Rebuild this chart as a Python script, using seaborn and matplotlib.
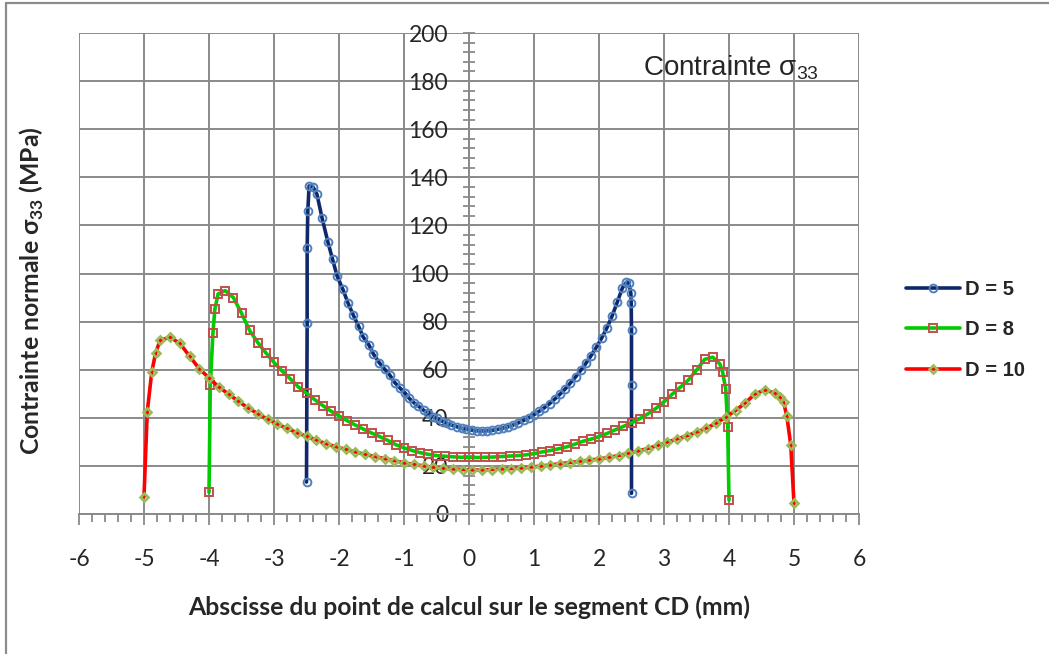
import matplotlib
matplotlib.use("Agg")
import matplotlib.pyplot as plt
from matplotlib.lines import Line2D
from matplotlib.ticker import MultipleLocator
import pandas as pd
import seaborn as sns

# Normal stress sigma_33 along segment CD, for three values of D
d5_x = [-2.50, -2.49, -2.49, -2.48, -2.46, -2.40, -2.34, -2.26, -2.17, -2.10,
        -2.03, -1.94, -1.86, -1.78, -1.70, -1.63, -1.54, -1.47, -1.38, -1.30,
        -1.22, -1.14, -1.06, -0.98, -0.92, -0.85, -0.78, -0.70, -0.63, -0.55,
        -0.49, -0.40, -0.34, -0.27, -0.19, -0.11, -0.04, 0.04, 0.12, 0.20,
        0.28, 0.36, 0.44, 0.52, 0.60, 0.68, 0.76, 0.84, 0.92, 1.00,
        1.08, 1.16, 1.24, 1.32, 1.40, 1.48, 1.56, 1.64, 1.72, 1.80,
        1.88, 1.96, 2.04, 2.12, 2.20, 2.28, 2.36, 2.42, 2.46, 2.49,
        2.495, 2.50, 2.50, 2.50]
d5_y = [13.3, 79.4, 110.6, 126.0, 136.4, 136.0, 133.0, 123.0, 113.0, 106.0,
        99.0, 93.4, 87.6, 82.7, 78.2, 73.7, 70.3, 66.5, 62.9, 60.3,
        57.8, 54.6, 52.3, 50.2, 48.1, 46.3, 44.9, 43.2, 41.9, 40.5,
        39.8, 38.4, 37.7, 37.0, 36.3, 35.6, 35.2, 34.9, 34.6, 34.5,
        34.6, 34.8, 35.2, 35.7, 36.3, 37.0, 37.9, 38.9, 40.0, 41.3,
        42.7, 44.2, 45.9, 47.8, 49.8, 52.0, 54.5, 57.0, 59.8, 62.7,
        65.9, 69.4, 73.1, 77.3, 82.2, 88.0, 94.0, 96.3, 96.0, 91.8,
        87.9, 76.5, 53.6, 8.6]

d8_x = [-4.00, -3.98, -3.94, -3.91, -3.86, -3.75, -3.625, -3.50, -3.375, -3.25,
        -3.125, -3.00, -2.875, -2.75, -2.625, -2.50, -2.375, -2.25, -2.125, -2.00,
        -1.875, -1.75, -1.625, -1.50, -1.375, -1.25, -1.125, -1.00, -0.875, -0.75,
        -0.625, -0.50, -0.375, -0.25, -0.125, 0.00, 0.125, 0.25, 0.375, 0.50,
        0.625, 0.75, 0.875, 1.00, 1.125, 1.25, 1.375, 1.50, 1.625, 1.75,
        1.875, 2.00, 2.125, 2.25, 2.375, 2.50, 2.625, 2.75, 2.875, 3.00,
        3.125, 3.25, 3.375, 3.50, 3.625, 3.75, 3.86, 3.90, 3.95, 3.98,
        4.00]
d8_y = [9.0, 53.6, 75.1, 85.2, 91.5, 92.9, 90.0, 83.5, 76.3, 71.3,
        67.0, 63.0, 59.4, 56.2, 52.8, 50.2, 47.6, 45.1, 42.8, 40.8,
        38.8, 37.0, 35.3, 33.7, 32.2, 30.6, 28.8, 27.5, 26.4, 25.5,
        24.8, 24.3, 24.0, 23.8, 23.6, 23.5, 23.5, 23.6, 23.7, 23.9,
        24.1, 24.3, 24.6, 25.1, 25.8, 26.4, 27.1, 27.9, 29.0, 30.2,
        31.1, 32.2, 33.5, 35.0, 36.4, 37.9, 39.6, 41.6, 43.9, 46.7,
        49.8, 52.7, 55.7, 59.8, 64.3, 65.2, 62.4, 59.2, 51.9, 36.3,
        5.8]

d10_x = [-5.00, -4.95, -4.88, -4.82, -4.75, -4.60, -4.45, -4.30, -4.15, -4.00,
         -3.85, -3.70, -3.55, -3.40, -3.25, -3.10, -2.95, -2.80, -2.65, -2.50,
         -2.35, -2.20, -2.05, -1.90, -1.75, -1.60, -1.45, -1.30, -1.15, -1.00,
         -0.85, -0.70, -0.55, -0.40, -0.25, -0.10, 0.05, 0.20, 0.35, 0.50,
         0.65, 0.80, 0.95, 1.10, 1.25, 1.40, 1.55, 1.70, 1.85, 2.00,
         2.15, 2.30, 2.45, 2.60, 2.75, 2.90, 3.05, 3.20, 3.35, 3.50,
         3.65, 3.80, 3.95, 4.10, 4.25, 4.40, 4.55, 4.70, 4.78, 4.84,
         4.89, 4.95, 5.00]
d10_y = [7.2, 42.5, 59.2, 67.1, 72.3, 73.5, 71.0, 65.7, 60.4, 56.6,
         52.8, 49.9, 46.9, 44.1, 41.7, 39.4, 37.4, 35.6, 33.8, 32.3,
         30.8, 29.2, 28.0, 26.9, 25.8, 24.8, 23.9, 23.0, 22.2, 21.3,
         20.6, 20.0, 19.4, 19.0, 18.7, 18.5, 18.3, 18.3, 18.5, 18.7,
         18.9, 19.1, 19.5, 19.9, 20.4, 20.9, 21.4, 21.9, 22.4, 22.9,
         23.5, 24.3, 25.2, 26.2, 27.2, 28.5, 29.9, 31.2, 32.5, 34.0,
         35.7, 37.7, 40.3, 43.0, 46.2, 49.9, 51.6, 50.3, 48.6, 46.4,
         40.7, 28.7, 4.4]

series_labels = ["D = 5", "D = 8", "D = 10"]
x_ticks = [-6, -5, -4, -3, -2, -1, 0, 1, 2, 3, 4, 5, 6]
y_ticks = [0, 20, 40, 60, 80, 100, 120, 140, 160, 180, 200]

sns.set_style("white")
plt.rcParams["font.family"] = ["Lato", "DejaVu Sans"]
plt.rcParams["axes.unicode_minus"] = False
plt.rcParams["mathtext.fontset"] = "custom"
plt.rcParams["mathtext.rm"] = "Liberation Sans"
plt.rcParams["mathtext.bf"] = "Lato:bold"

grid_c = "#8a8a8a"

fig = plt.figure(figsize=(10.49, 6.54), dpi=100)
ax = fig.add_axes([79 / 1049, (654 - 514) / 654, 780 / 1049, 481 / 654])

styles = [
    dict(color="#10286b", marker="o", markersize=5.6, markerfacecolor="none",
         markeredgecolor="#4f81bd", markeredgewidth=1.4),
    dict(color="#00cc00", marker="s", markersize=6.0, markerfacecolor="none",
         markeredgecolor="#c0504d", markeredgewidth=1.4),
    dict(color="#ff0000", marker="D", markersize=4.4, markerfacecolor="none",
         markeredgecolor="#9bbb59", markeredgewidth=1.9),
]
data = [(d5_x, d5_y), (d8_x, d8_y), (d10_x, d10_y)]
for (xs, ys), lab, st in zip(data, series_labels, styles):
    df = pd.DataFrame({"x": xs, "y": ys})
    sns.lineplot(data=df, x="x", y="y", ax=ax, sort=False, estimator=None,
                 linewidth=2.6, label=lab, zorder=3, **st)

ax.set_xlim(-6, 6)
ax.set_ylim(0, 200)
ax.set_xticks(x_ticks)
ax.set_yticks(y_ticks)
ax.xaxis.set_minor_locator(MultipleLocator(0.2))
ax.yaxis.set_minor_locator(MultipleLocator(4))

ax.grid(True, which="major", color=grid_c, linewidth=1.4)
ax.set_axisbelow(True)
for s in ["top", "right"]:
    ax.spines[s].set_visible(False)
ax.spines["left"].set_position(("data", 0))
ax.spines["left"].set_color(grid_c)
ax.spines["left"].set_linewidth(1.4)
ax.spines["bottom"].set_color(grid_c)
ax.spines["bottom"].set_linewidth(1.4)
ax.spines["left"].set_zorder(2)
ax.spines["bottom"].set_zorder(2)

ax.tick_params(axis="y", which="both", direction="inout", length=8, width=1.3,
               color=grid_c, pad=11, labelsize=16.5, left=True)
ax.tick_params(axis="x", which="major", direction="out", length=8, width=1.3,
               color=grid_c, pad=17, labelsize=16.5, bottom=True)
ax.tick_params(axis="x", which="minor", direction="out", length=6, width=1.3,
               color=grid_c, bottom=True)

ax.set_xlabel("Abscisse du point de calcul sur le segment CD (mm)",
              fontsize=17.8, fontweight="bold")
ax.xaxis.set_label_coords(0.5, -0.193)
ax.xaxis.label.set_va("center")
ax.set_ylabel("Contrainte normale σ$_{\\mathbf{33}}$ (MPa)",
              fontsize=17.8, fontweight="bold")
ax.yaxis.set_label_coords(-0.06, 0.465)
ax.yaxis.label.set_va("center")

ax.text(2.68, 182.5, "Contrainte σ$_{33}$", fontsize=20, va="baseline",
        ha="left", family=["Liberation Sans", "DejaVu Sans"])

handles, labels = ax.get_legend_handles_labels()
if ax.get_legend() is not None:
    ax.get_legend().remove()
fig.legend(handles, labels, loc="center left",
           bbox_to_anchor=(906 / 1049, (654 - 330) / 654),
           frameon=False, borderpad=0, borderaxespad=0, handlelength=2.7,
           handletextpad=0.25, labelspacing=1.05,
           prop=dict(family=["Liberation Sans", "DejaVu Sans"], weight="bold", size=14.5))

# outer chart frame
fig.add_artist(Line2D([6 / 1049, 6 / 1049], [0, 1 - 3 / 654], transform=fig.transFigure,
                      color="#8c8c8c", linewidth=1.6))
fig.add_artist(Line2D([6 / 1049, 1], [1 - 3 / 654, 1 - 3 / 654], transform=fig.transFigure,
                      color="#8c8c8c", linewidth=1.6))

fig.savefig("out.png", dpi=100)
